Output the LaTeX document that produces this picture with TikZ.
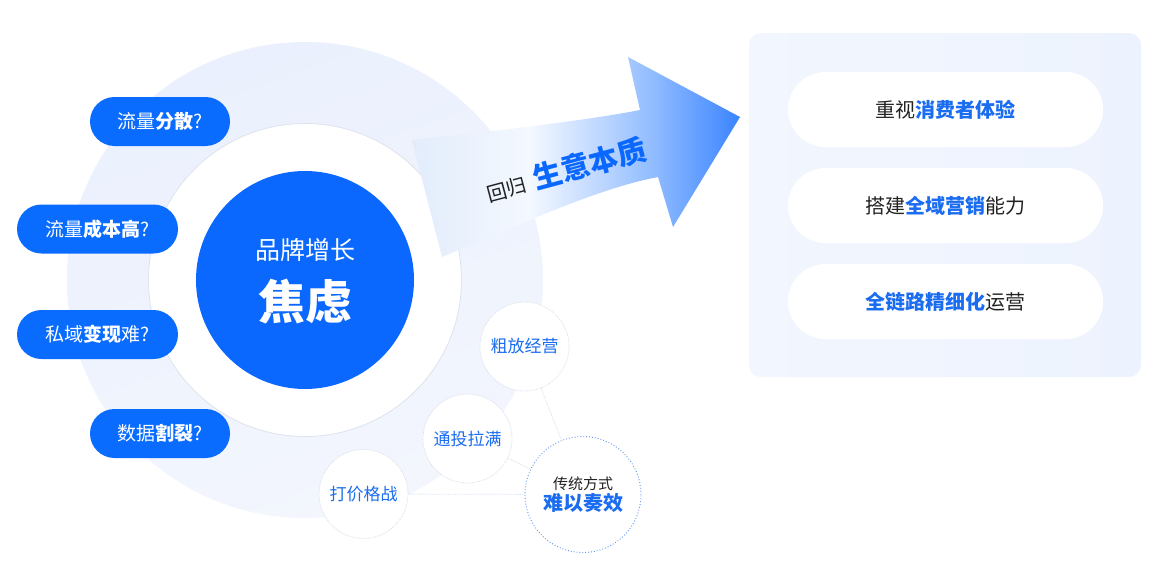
\documentclass[tikz,border=0pt]{standalone}
\usepackage{fontspec}
\setmainfont{Noto Sans CJK SC}
\usetikzlibrary{calc}
\definecolor{mainblue}{HTML}{0A68FF}
\definecolor{pillblue}{HTML}{0A6CFF}
\definecolor{txtblue}{HTML}{1A6CF0}
\definecolor{darktxt}{HTML}{222222}
\definecolor{bgcirc}{HTML}{EAF0FD}
\definecolor{bgcirc2}{HTML}{F3F6FD}
\definecolor{ringline}{HTML}{DDE3EC}
\definecolor{dotgrey}{HTML}{D9DEE8}
\definecolor{dotblue}{HTML}{5C95F2}
\definecolor{linkc}{HTML}{D3E0F4}
\definecolor{panelc}{HTML}{EDF3FE}
\definecolor{panelc2}{HTML}{F2F6FE}
\definecolor{ag1}{HTML}{E2ECFB}
\definecolor{ag2}{HTML}{F4F8FF}
\definecolor{ag3}{HTML}{BCD6FF}
\definecolor{ag4}{HTML}{8FBBFF}
\definecolor{ag5}{HTML}{3A84FF}
\pgfdeclarehorizontalshading{arrowgrad}{100bp}{
  color(0bp)=(ag1);
  color(25bp)=(ag1);
  color(43bp)=(ag2);
  color(54bp)=(ag3);
  color(62bp)=(ag4);
  color(75bp)=(ag5);
  color(100bp)=(ag5)}
\tikzset{
  pill/.style={rectangle, rounded corners=24.5pt, fill=pillblue, minimum width=140pt,
    minimum height=49pt, inner sep=0pt, text=white, font=\fontsize{19}{19}\selectfont},
  rpill/.style={rectangle, rounded corners=37.5pt, fill=white, minimum width=315pt,
    minimum height=75pt, inner sep=0pt, text=darktxt, font=\fontsize{20}{20}\selectfont},
  smallc/.style={circle, fill=white, draw=dotgrey, densely dotted, line width=0.8pt,
    minimum size=89pt, inner sep=0pt, text=txtblue, font=\fontsize{17}{17}\selectfont},
  bigc/.style={circle, fill=white, draw=dotblue, dotted, line width=0.9pt,
    minimum size=116pt, inner sep=0pt, align=center},
  link/.style={draw=linkc, densely dotted, line width=0.8pt},
}
\begin{document}
\begin{tikzpicture}[x=1pt,y=-1pt]
\useasboundingbox (0,0) rectangle (1170,562);
\fill[white] (0,0) rectangle (1170,562);

% background circle
\shade[top color=bgcirc, bottom color=bgcirc2, shading angle=20] (305,280) circle (238);

% white ring
\node[circle, fill=white, draw=ringline, line width=0.8pt, minimum size=313pt, inner sep=0pt] (ring) at (305,280) {};
% blue core
\node[circle, fill=mainblue, minimum size=218pt, inner sep=0pt] (core) at (305,280) {};
\node[text=white, font=\fontsize{25}{25}\selectfont] (t1) at (305,250) {品牌增长};
\node[text=white, font=\fontsize{47}{47}\selectfont\bfseries] (t2) at (305,302) {焦虑};

% left pills
\node[pill] (p1) at (160,121.5) {流量\textbf{分散}?};
\node[pill, minimum width=161pt] (p2) at (97.5,229) {流量\textbf{成本高}?};
\node[pill, minimum width=161pt] (p3) at (97.5,334.5) {私域\textbf{变现}难?};
\node[pill] (p4) at (160,433.5) {数据\textbf{割裂}?};

% arrow
\shade[shading=arrowgrad]
  (412,140) -- (442,257) .. controls (530,220) and (600,188) .. (658,177)
  -- (673,227) -- (740,117) -- (628,57) -- (640,110)
  .. controls (590,120) and (480,133) .. (412,140) -- cycle;
\node[rotate=15, inner sep=0pt] (ess) at (566,170)
  {{\color{darktxt}\fontsize{20}{20}\selectfont 回归}\hspace{9pt}{\color{mainblue}\fontsize{29}{29}\selectfont\bfseries 生意本质}};

% small circles
\node[bigc] (tr) at (583,494.5) {{\fontsize{15}{17}\selectfont\color{darktxt}传统方式}\\[1pt]{\fontsize{20}{22}\selectfont\bfseries\color{txtblue}难以奏效}};
\node[smallc] (c1) at (524.5,346.5) {粗放经营};
\node[smallc] (c2) at (467.5,438.5) {通投拉满};
\node[smallc] (c3) at (363.5,494) {打价格战};
\draw[link] (c1) -- (tr);
\draw[link] (c2) -- (tr);
\draw[link] (c3) -- (tr);

% right panel
\shade[left color=panelc2, right color=panelc, rounded corners=12pt] (749,33) rectangle (1141,377);
\node[rpill] (r1) at (945.5,109.5) {重视\textbf{\color{txtblue}消费者体验}};
\node[rpill] (r2) at (945.5,205.5) {搭建\textbf{\color{txtblue}全域营销}能力};
\node[rpill] (r3) at (945.5,301.5) {\textbf{\color{txtblue}全链路精细化}运营};
\end{tikzpicture}
\end{document}
